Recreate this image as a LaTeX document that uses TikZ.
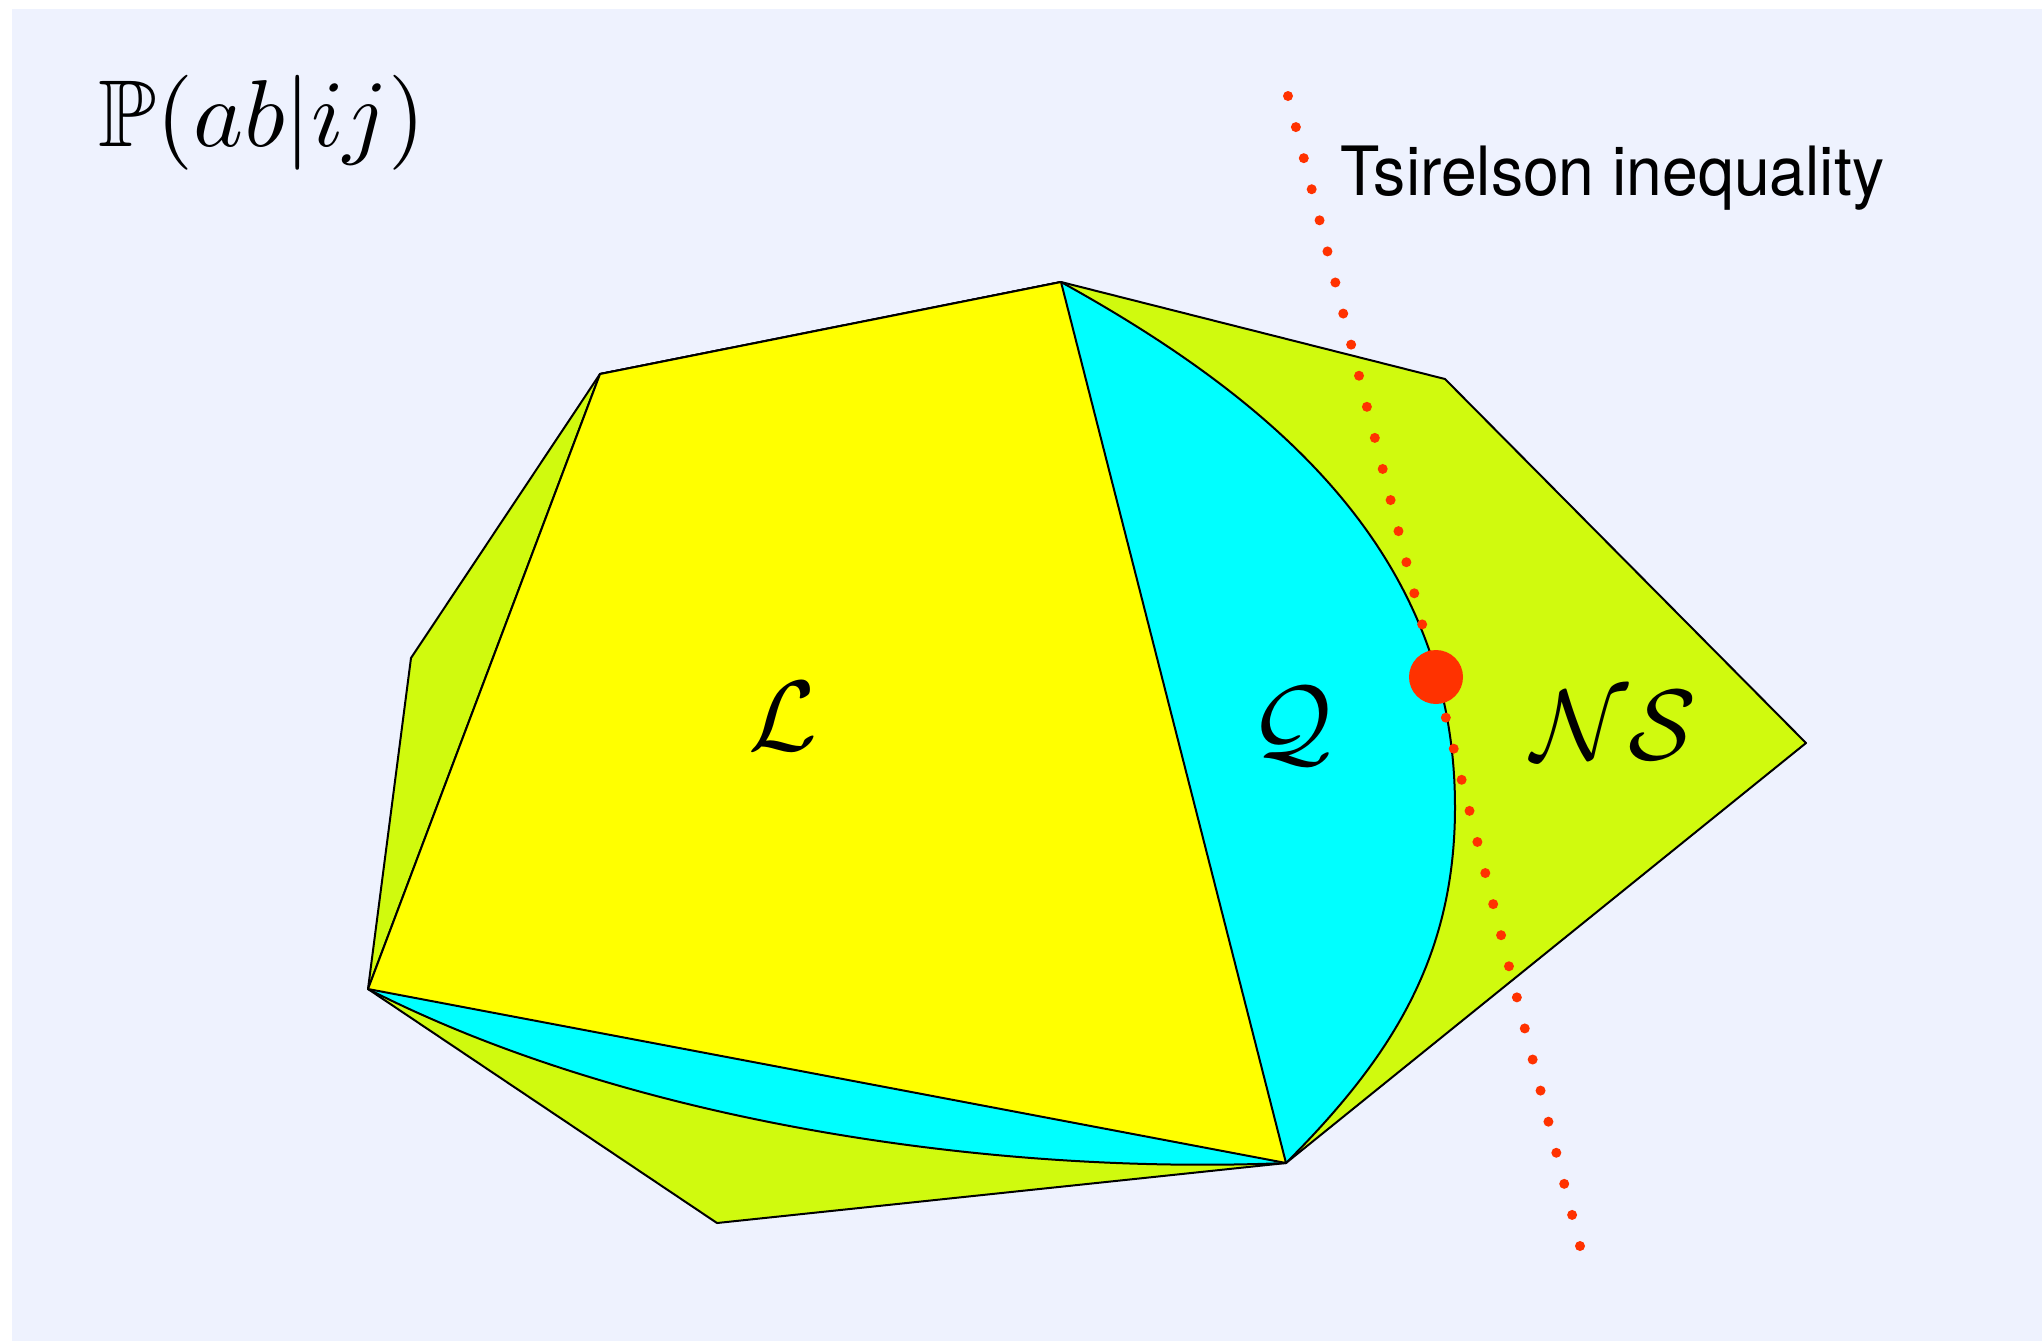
\documentclass[tikz,border=0pt]{standalone}
\usepackage{amssymb}
\usepackage{fontspec}
\newfontfamily\heros{TeX Gyre Heros}
\definecolor{bgc}{RGB}{238,242,254}
\definecolor{nsc}{RGB}{208,250,14}
\definecolor{qc}{RGB}{0,255,255}
\definecolor{lc}{RGB}{255,255,0}
\definecolor{redc}{RGB}{255,50,0}
\tikzset{
  edge/.style={draw=black, line width=1pt, line join=round},
  reddot/.style={circle, fill=redc, inner sep=0pt, minimum size=5pt},
  biglabel/.style={anchor=base, inner sep=0pt, scale=5}
}
\begin{document}
\begin{tikzpicture}[x=0.5pt,y=-0.5pt]
\useasboundingbox (0,0) rectangle (2042,1341);
\fill[bgc] (12,9) rectangle (2042,1341);
\coordinate (T) at (1061,282);
\coordinate (TL) at (600,374);
\coordinate (LU) at (411,658);
\coordinate (Lf) at (368,989);
\coordinate (BL) at (717,1223);
\coordinate (B) at (1286,1163);
\coordinate (R2) at (1806,743);
\coordinate (R1) at (1445,379);
\coordinate (M) at (1455,807);
% no-signalling polytope
\filldraw[edge, fill=nsc] (T) -- (R1) -- (R2) -- (B) -- (BL) -- (Lf) -- (LU) -- (TL) -- cycle;
% quantum set
\filldraw[edge, fill=qc] (TL) -- (T) .. controls (1280,403) and (1455,557) .. (M)
   .. controls (1455,957) and (1392,1057) .. (B)
   .. controls (1000,1175) and (635,1125) .. (Lf) -- cycle;
% local polytope
\filldraw[edge, fill=lc] (T) -- (TL) -- (Lf) -- (B) -- cycle;
% Tsirelson inequality
\coordinate (ds) at (1288,96);
\coordinate (de) at (1580,1246);
\foreach \i in {0,...,37}
  \path (ds) -- (de) node[reddot, pos=\i/37] {};
\node[circle, fill=redc, inner sep=0pt, minimum size=27pt] (tsp) at (1436,677) {};
% labels
\node[anchor=base west, inner sep=0pt, scale=4.75] (prob) at (97,146) {$\mathbb{P}(ab|ij)$};
\node[anchor=base west, inner sep=0pt, font={\heros\fontsize{34pt}{38pt}\selectfont}, xscale=0.945] (tsi) at (1340,195) {Tsirelson inequality};
\node[biglabel] (Llab) at (783,750) {$\mathcal{L}$};
\node[biglabel] (Qlab) at (1291,755) {$\mathcal{Q}$};
\node[biglabel] (NSlab) at (1614,759) {$\mathcal{NS}$};
\end{tikzpicture}
\end{document}
